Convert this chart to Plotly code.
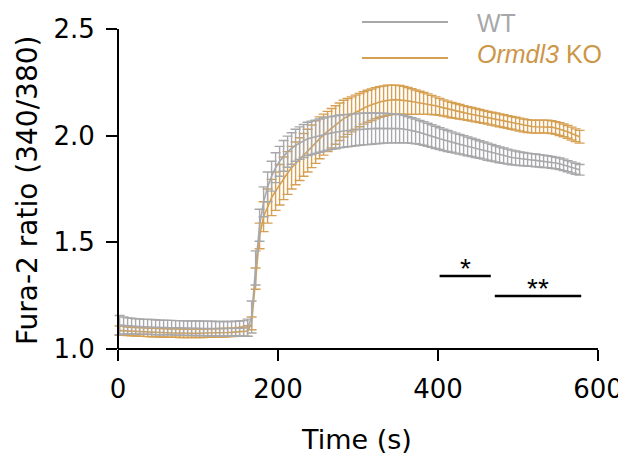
import plotly.graph_objects as go

# ---------------- data ----------------
time_s = [2, 7, 12, 17, 22, 27, 32, 37, 42, 47, 52, 57, 62, 67, 72, 77, 82, 87, 92, 97,
          102, 107, 112, 117, 122, 127, 132, 137, 142, 147, 152, 157, 162, 167, 172, 177, 182, 187, 192, 197,
          202, 207, 212, 217, 222, 227, 232, 237, 242, 247, 252, 257, 262, 267, 272, 277, 282, 287, 292, 297,
          302, 307, 312, 317, 322, 327, 332, 337, 342, 347, 352, 357, 362, 367, 372, 377, 382, 387, 392, 397,
          402, 407, 412, 417, 422, 427, 432, 437, 442, 447, 452, 457, 462, 467, 472, 477, 482, 487, 492, 497,
          502, 507, 512, 517, 522, 527, 532, 537, 542, 547, 552, 557, 562, 567, 572, 577]

wt_mean = [1.112, 1.110, 1.108, 1.107, 1.106, 1.105, 1.104, 1.104, 1.103, 1.102,
           1.101, 1.101, 1.100, 1.100, 1.099, 1.099, 1.098, 1.098, 1.097, 1.097,
           1.097, 1.096, 1.096, 1.096, 1.095, 1.095, 1.095, 1.095, 1.095, 1.096,
           1.096, 1.097, 1.100,
           1.150, 1.380, 1.580, 1.690, 1.760, 1.810, 1.850, 1.880, 1.905, 1.925,
           1.940, 1.955, 1.965, 1.975, 1.985, 1.990, 1.995, 2.000, 2.005, 2.010,
           2.013, 2.016, 2.020, 2.022, 2.024, 2.026, 2.028, 2.030, 2.031, 2.032,
           2.033, 2.034, 2.034, 2.035, 2.035, 2.035, 2.034, 2.033, 2.031, 2.028,
           2.024, 2.020, 2.015, 2.010, 2.004, 1.998, 1.992, 1.986, 1.980, 1.975,
           1.970, 1.965, 1.960, 1.955, 1.950, 1.945, 1.940, 1.935, 1.930, 1.925,
           1.920, 1.915, 1.910, 1.906, 1.902, 1.898, 1.895, 1.892, 1.890, 1.888,
           1.886, 1.884, 1.882, 1.880, 1.878, 1.875, 1.872, 1.868, 1.863, 1.857,
           1.851, 1.845, 1.840]

wt_sem = [0.045, 0.040, 0.038, 0.037, 0.036, 0.036, 0.035, 0.035, 0.035, 0.035,
          0.034, 0.034, 0.034, 0.034, 0.034, 0.034, 0.034, 0.034, 0.034, 0.034,
          0.034, 0.034, 0.034, 0.034, 0.034, 0.034, 0.034, 0.034, 0.034, 0.034,
          0.035, 0.036, 0.040,
          0.075, 0.080, 0.075, 0.070, 0.070, 0.070, 0.070, 0.070, 0.072, 0.073,
          0.074, 0.075, 0.076, 0.077, 0.078, 0.078, 0.078, 0.078, 0.078, 0.078,
          0.077, 0.077, 0.077, 0.076, 0.076, 0.076, 0.075, 0.075, 0.074, 0.074,
          0.073, 0.072, 0.071, 0.070, 0.069, 0.068, 0.067, 0.066, 0.064, 0.062,
          0.060, 0.058, 0.056, 0.055, 0.054, 0.053, 0.052, 0.051, 0.050, 0.049,
          0.048, 0.047, 0.046, 0.045, 0.044, 0.043, 0.042, 0.041, 0.040, 0.040,
          0.039, 0.038, 0.037, 0.036, 0.035, 0.034, 0.033, 0.032, 0.031, 0.030,
          0.030, 0.030, 0.029, 0.029, 0.028, 0.028, 0.027, 0.027, 0.027, 0.026,
          0.026, 0.026, 0.025]

ko_mean = [1.086, 1.085, 1.083, 1.082, 1.081, 1.080, 1.079, 1.078, 1.077, 1.077,
           1.076, 1.076, 1.075, 1.075, 1.075, 1.074, 1.074, 1.074, 1.074, 1.074,
           1.074, 1.074, 1.075, 1.075, 1.075, 1.076, 1.076, 1.077, 1.078, 1.079,
           1.080, 1.081, 1.084,
           1.120, 1.330, 1.530, 1.620, 1.670, 1.710, 1.740, 1.770, 1.800, 1.825,
           1.850, 1.870, 1.890, 1.910, 1.930, 1.950, 1.970, 1.990, 2.005, 2.020,
           2.035, 2.050, 2.065, 2.080, 2.090, 2.100, 2.110, 2.120, 2.130, 2.138,
           2.145, 2.152, 2.158, 2.162, 2.166, 2.168, 2.169, 2.168, 2.166, 2.163,
           2.160, 2.157, 2.154, 2.151, 2.148, 2.144, 2.140, 2.135, 2.130, 2.125,
           2.120, 2.116, 2.112, 2.108, 2.104, 2.100, 2.096, 2.092, 2.088, 2.084,
           2.080, 2.076, 2.072, 2.068, 2.064, 2.060, 2.056, 2.052, 2.048, 2.045,
           2.043, 2.042, 2.042, 2.043, 2.042, 2.040, 2.036, 2.031, 2.025, 2.018,
           2.010, 2.002, 1.995]

ko_sem = [0.022, 0.021, 0.020, 0.020, 0.020, 0.020, 0.020, 0.020, 0.020, 0.020,
          0.020, 0.020, 0.020, 0.020, 0.020, 0.020, 0.020, 0.020, 0.020, 0.020,
          0.020, 0.020, 0.020, 0.020, 0.020, 0.020, 0.020, 0.020, 0.020, 0.020,
          0.021, 0.022, 0.025,
          0.030, 0.050, 0.060, 0.070, 0.080, 0.085, 0.090, 0.095, 0.100, 0.100,
          0.100, 0.100, 0.100, 0.100, 0.100, 0.100, 0.100, 0.098, 0.096, 0.094,
          0.092, 0.090, 0.088, 0.086, 0.084, 0.082, 0.080, 0.078, 0.076, 0.075,
          0.074, 0.073, 0.072, 0.071, 0.070, 0.069, 0.068, 0.067, 0.065, 0.063,
          0.060, 0.057, 0.054, 0.051, 0.048, 0.045, 0.042, 0.040, 0.038, 0.037,
          0.036, 0.035, 0.034, 0.033, 0.032, 0.032, 0.031, 0.031, 0.030, 0.030,
          0.030, 0.030, 0.030, 0.030, 0.030, 0.030, 0.030, 0.030, 0.030, 0.030,
          0.030, 0.030, 0.030, 0.030, 0.030, 0.030, 0.030, 0.030, 0.030, 0.030,
          0.030, 0.030, 0.030]

series_names = ["WT", "<i>Ormdl3</i> KO"]
x_ticks = [0, 200, 400, 600]
y_ticks = [1.0, 1.5, 2.0, 2.5]
x_title = "Time (s)"
y_title = "Fura-2 ratio (340/380)"

sig_ranges = [(402, 466), (471, 579)]
sig_levels = [1.342, 1.248]
sig_labels = ["*", "**"]

# ---------------- style ----------------
PAGE_OFF = 8                     # default body margin of the html page
W, H = 626 - PAGE_OFF, 456 - PAGE_OFF
ML, MT = 106 - PAGE_OFF, 29 - PAGE_OFF
MR = W - (598 - PAGE_OFF)
MB = H - (349 - PAGE_OFF)
X_RANGE = [-15, 600]
Y_RANGE = [1.0, 2.5]
GRAY = "rgb(168,168,170)"
ORANGE = "rgb(214,160,82)"
ORANGE_TXT = "rgb(204,150,72)"
AX_FONT = "DejaVu Sans, Liberation Sans, sans-serif"
LEG_FONT = "Liberation Sans, Arial, sans-serif"

PW = W - ML - MR
PH = H - MT - MB


def px_x(px):
    """screen pixel -> paper fraction"""
    return (px - PAGE_OFF - ML) / PW


def px_y(py):
    return (H - MB - (py - PAGE_OFF)) / PH


yaxis_pos = (0 - X_RANGE[0]) / (X_RANGE[1] - X_RANGE[0])

fig = go.Figure()

for mean, sem, color in [(ko_mean, ko_sem, ORANGE), (wt_mean, wt_sem, GRAY)]:
    fig.add_trace(go.Scatter(
        x=time_s, y=mean, mode="lines",
        line=dict(color=color, width=1.6),
        error_y=dict(type="data", array=sem, visible=True, color=color,
                     thickness=1.4, width=5),
        showlegend=False, hoverinfo="skip",
    ))

shapes = []
annotations = []

# x axis spine from 0 to 600
shapes.append(dict(type="line", xref="paper", yref="paper",
                   x0=yaxis_pos, x1=1, y0=0, y1=0,
                   line=dict(color="black", width=2)))

# significance bars
for (a, b), lvl, lab in zip(sig_ranges, sig_levels, sig_labels):
    shapes.append(dict(type="line", xref="x", yref="y", x0=a, x1=b, y0=lvl, y1=lvl,
                       line=dict(color="black", width=2.5)))
    annotations.append(dict(x=(a + b) / 2, y=lvl, xref="x", yref="y", text=lab,
                            showarrow=False, yanchor="middle", yshift=8,
                            font=dict(family=LEG_FONT, size=28, color="black")))

# manual legend
legend_rows = [(22, 23, GRAY, GRAY), (58, 54, ORANGE, ORANGE_TXT)]
for name, (ly, ty, lcol, tcol) in zip(series_names, legend_rows):
    shapes.append(dict(type="line", xref="paper", yref="paper",
                       x0=px_x(362), x1=px_x(448), y0=px_y(ly), y1=px_y(ly),
                       line=dict(color=lcol, width=2.2)))
    annotations.append(dict(x=px_x(475), y=px_y(ty), xref="paper", yref="paper",
                            text=name, showarrow=False, xanchor="left", yanchor="middle",
                            font=dict(family=LEG_FONT, size=25, color=tcol)))

# axis titles
annotations.append(dict(x=px_x(356), y=px_y(439), xref="paper", yref="paper",
                        text=x_title, showarrow=False, xanchor="center", yanchor="middle",
                        font=dict(family=AX_FONT, size=27, color="black")))
annotations.append(dict(x=px_x(27), y=px_y(191), xref="paper", yref="paper",
                        text=y_title, showarrow=False, xanchor="center", yanchor="middle",
                        textangle=-90,
                        font=dict(family=AX_FONT, size=28, color="black")))

fig.update_layout(
    width=W, height=H,
    margin=dict(l=ML, r=MR, t=MT, b=MB, pad=0, autoexpand=False),
    paper_bgcolor="white", plot_bgcolor="white",
    font=dict(family=AX_FONT, size=26, color="black"),
    shapes=shapes, annotations=annotations,
    xaxis=dict(range=X_RANGE, tickvals=x_ticks, ticks="outside", ticklen=11,
               tickwidth=2, tickcolor="black", showline=False, showgrid=False,
               zeroline=False, automargin=False,
               tickfont=dict(family=AX_FONT, size=26, color="black"),
               ticklabelstandoff=6),
    yaxis=dict(range=Y_RANGE, tickvals=y_ticks, tickformat=".1f", ticks="outside",
               ticklen=11, tickwidth=2, tickcolor="black", showline=True,
               linewidth=2, linecolor="black", showgrid=False, zeroline=False,
               anchor="free", position=yaxis_pos, automargin=False,
               ticklabelstandoff=6,
               tickfont=dict(family=AX_FONT, size=26, color="black")),
)

fig.write_html("out.html")
